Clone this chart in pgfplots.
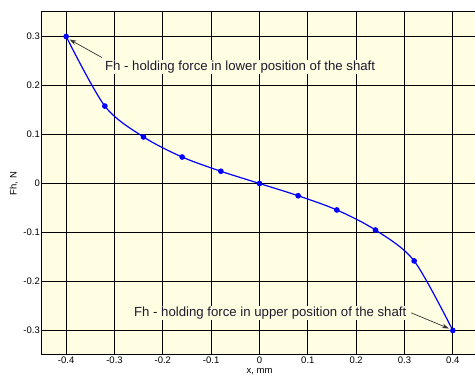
\documentclass[border=0pt]{standalone}
\usepackage{pgfplots}
\pgfplotsset{compat=1.18}
\usepackage{fontspec}
\setmainfont{Liberation Sans}
\usetikzlibrary{arrows.meta}
\definecolor{bgc}{RGB}{255,253,226}
\definecolor{annc}{RGB}{35,25,45}
\begin{document}
\begin{tikzpicture}
\begin{axis}[
  scale only axis, width=435pt, height=343pt,
  xmin=-0.45, xmax=0.45, ymin=-0.35, ymax=0.35,
  axis background/.style={fill=bgc},
  grid=major,
  major grid style={black, line width=1pt},
  axis line style={black, line width=1pt},
  tick align=inside, major tick length=2pt,
  tick style={black, line width=0.8pt},
  xtick={-0.4,-0.3,-0.2,-0.1,0,0.1,0.2,0.3,0.4},
  xticklabels={-0.4,-0.3,-0.2,-0.1,0,0.1,0.2,0.3,0.4},
  ytick={-0.3,-0.2,-0.1,0,0.1,0.2,0.3},
  yticklabels={-0.3,-0.2,-0.1,0,0.1,0.2,0.3},
  ticklabel style={font=\fontsize{9.5}{10}\selectfont},
  yticklabel style={inner sep=1pt, xshift=-1pt},
  xticklabel style={inner sep=1pt, yshift=-1pt},
  xlabel={x, mm}, ylabel={Fh, N},
  label style={font=\fontsize{9.5}{10}\selectfont},
  xlabel style={inner sep=1pt, yshift=-2pt},
  ylabel style={yshift=1pt},
  clip=false,
]
\addplot[blue, line width=1.2pt, smooth, mark=*, mark size=2.2pt, mark options={fill=blue}]
coordinates {
(-0.40,0.300) (-0.32,0.158) (-0.24,0.095) (-0.16,0.054) (-0.08,0.025) (0,0)
(0.08,-0.025) (0.16,-0.054) (0.24,-0.095) (0.32,-0.158) (0.40,-0.300)
};
\node[anchor=west, fill=bgc, inner sep=1pt, text=annc, font=\fontsize{13.2}{14}\selectfont]
  at (axis cs:-0.322,0.238) {Fh - holding force in lower position of the shaft};
\node[anchor=west, fill=bgc, inner sep=1pt, text=annc, font=\fontsize{13.2}{14}\selectfont]
  at (axis cs:-0.262,-0.264) {Fh - holding force in upper position of the shaft};
\draw[black!80, line width=0.7pt, -{Stealth[length=7pt,width=4.5pt]}]
  (axis cs:-0.326,0.257) -- (axis cs:-0.393,0.294);
\draw[black!80, line width=0.7pt, -{Stealth[length=7pt,width=4.5pt]}]
  (axis cs:0.314,-0.264) -- (axis cs:0.392,-0.296);
\coordinate (bl) at (rel axis cs:0,0);
\coordinate (tl) at (rel axis cs:0,1);
\end{axis}
\pgfresetboundingbox
\path[use as bounding box] ([xshift=-42pt,yshift=-28pt]bl) rectangle ([xshift=433pt,yshift=12pt]tl);
\end{tikzpicture}
\end{document}
